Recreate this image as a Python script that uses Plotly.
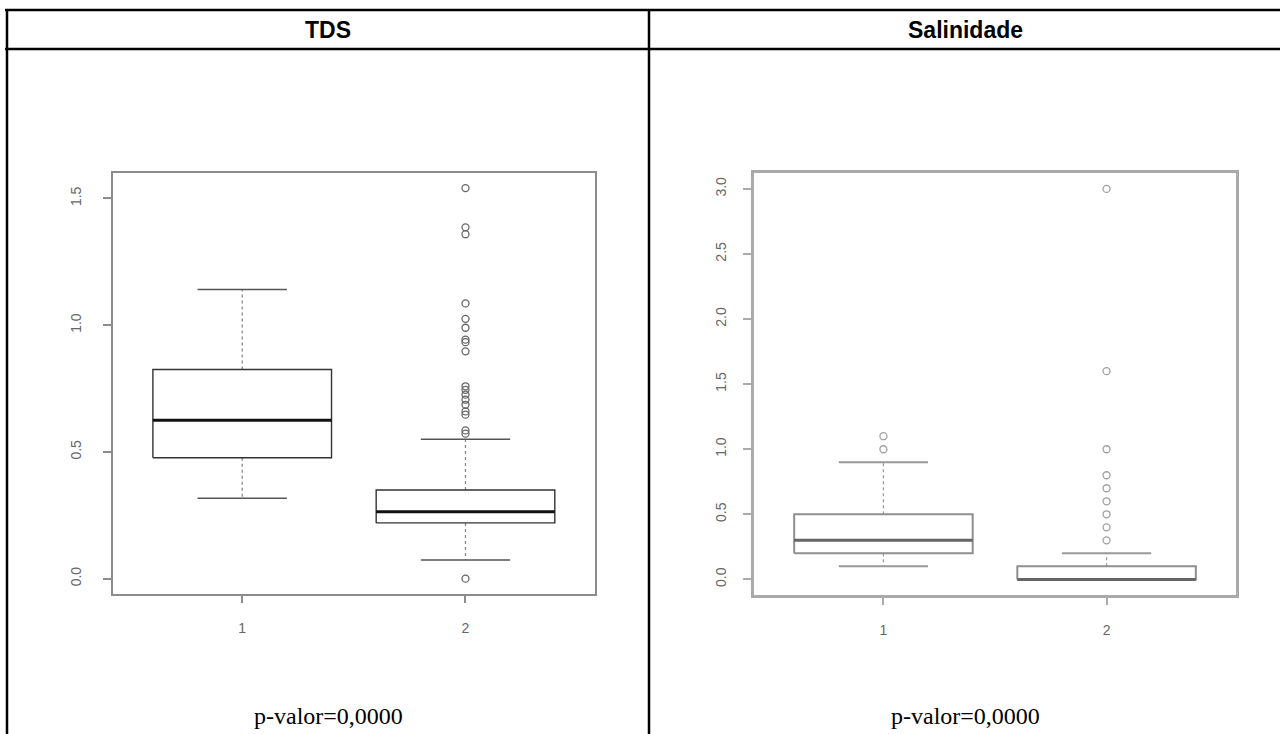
import plotly.graph_objects as go

W, H = 1280, 734

# ---------------- data ----------------
groups = [1, 2]
group_labels = ["1", "2"]

tds_lower = [0.317, 0.074]
tds_q1 = [0.477, 0.220]
tds_median = [0.625, 0.264]
tds_q3 = [0.825, 0.350]
tds_upper = [1.141, 0.550]
tds_outliers_g1 = []
tds_outliers_g2 = [0.0, 0.572, 0.585, 0.647, 0.660, 0.686, 0.706, 0.726, 0.745,
                   0.759, 0.897, 0.933, 0.943, 0.990, 1.025, 1.086, 1.359, 1.386, 1.541]

sal_lower = [0.1, 0.0]
sal_q1 = [0.2, 0.0]
sal_median = [0.3, 0.0]
sal_q3 = [0.5, 0.1]
sal_upper = [0.9, 0.2]
sal_outliers_g1 = [1.0, 1.1]
sal_outliers_g2 = [0.3, 0.4, 0.5, 0.6, 0.7, 0.8, 1.0, 1.6, 3.0]

tds_yticks = [0.0, 0.5, 1.0, 1.5]
sal_yticks = [0.0, 0.5, 1.0, 1.5, 2.0, 2.5, 3.0]

titles = ["TDS", "Salinidade"]
pvalue_texts = ["p-valor=0,0000", "p-valor=0,0000"]

# ---------------- helpers ----------------
def px_x(p):
    return p / W

def px_y(p):
    return 1 - p / H

fig = go.Figure()

def add_boxplot(xa, ya, lower, q1, med, q3, upper, outliers_list, style):
    hw, cw = 0.4, 0.2
    for i, g in enumerate(groups):
        # whiskers (dashed)
        for a, b in [(q3[i], upper[i]), (q1[i], lower[i])]:
            fig.add_trace(go.Scatter(x=[g, g], y=[a, b], mode="lines", xaxis=xa, yaxis=ya,
                                     line=dict(color=style["whisker"], width=1.3, dash="3px,3px"),
                                     showlegend=False, hoverinfo="skip"))
        # caps
        for v in [upper[i], lower[i]]:
            fig.add_trace(go.Scatter(x=[g - cw, g + cw], y=[v, v], mode="lines", xaxis=xa, yaxis=ya,
                                     line=dict(color=style["cap"], width=style["capw"]),
                                     showlegend=False, hoverinfo="skip"))
        # box
        fig.add_trace(go.Scatter(x=[g - hw, g + hw, g + hw, g - hw, g - hw],
                                 y=[q1[i], q1[i], q3[i], q3[i], q1[i]],
                                 mode="lines", xaxis=xa, yaxis=ya, fill="toself",
                                 fillcolor="white",
                                 line=dict(color=style["box"], width=style["boxw"]),
                                 showlegend=False, hoverinfo="skip"))
        # median
        fig.add_trace(go.Scatter(x=[g - hw, g + hw], y=[med[i], med[i]], mode="lines",
                                 xaxis=xa, yaxis=ya,
                                 line=dict(color=style["median"], width=3),
                                 showlegend=False, hoverinfo="skip"))
        # outliers
        outs = outliers_list[i]
        if outs:
            fig.add_trace(go.Scatter(x=[g] * len(outs), y=outs, mode="markers",
                                     xaxis=xa, yaxis=ya,
                                     marker=dict(symbol="circle-open", size=7,
                                                 color=style["outlier"], line=dict(width=1.3)),
                                     showlegend=False, hoverinfo="skip"))

left_style = dict(whisker="#888888", cap="#555555", capw=1.5, box="#333333", boxw=1.4,
                  median="#111111", outlier="#666666")
right_style = dict(whisker="#9a9a9a", cap="#999999", capw=2, box="#8f8f8f", boxw=2,
                   median="#666666", outlier="#a0a0a0")

add_boxplot("x", "y", tds_lower, tds_q1, tds_median, tds_q3, tds_upper,
            [tds_outliers_g1, tds_outliers_g2], left_style)
add_boxplot("x2", "y2", sal_lower, sal_q1, sal_median, sal_q3, sal_upper,
            [sal_outliers_g1, sal_outliers_g2], right_style)

def xaxis_cfg(domain, color, lw):
    return dict(domain=domain, range=[0.42, 2.58], tickmode="array", tickvals=groups,
                ticktext=group_labels, ticks="outside", ticklen=7, tickcolor=color, tickwidth=1.5,
                showline=True, linecolor=color, linewidth=lw, mirror=True,
                showgrid=False, zeroline=False, ticklabelstandoff=13,
                tickfont=dict(family="Liberation Sans, Arial", size=14, color="#666666"),
                fixedrange=True)

def yaxis_cfg(domain, rng, ticks, color, lw, anchor, standoff):
    return dict(domain=domain, range=rng, tickmode="array", tickvals=ticks,
                ticktext=[f"{t:.1f}" for t in ticks], ticks="outside", ticklen=8,
                tickcolor=color, tickwidth=1.5, tickangle=-90,
                showline=True, linecolor=color, linewidth=lw, mirror=True,
                showgrid=False, zeroline=False, anchor=anchor, ticklabelstandoff=standoff,
                tickfont=dict(family="Liberation Sans, Arial", size=14, color="#666666"),
                fixedrange=True)

fig.update_layout(
    width=W, height=H, margin=dict(l=0, r=0, t=0, b=0),
    paper_bgcolor="white", plot_bgcolor="white", showlegend=False,
    xaxis=xaxis_cfg([px_x(112.7), px_x(595)], "#8c8c8c", 2),
    yaxis=yaxis_cfg([px_y(594.3), px_y(172.7)], [-0.0616, 1.6016], tds_yticks,
                    "#8c8c8c", 2, "x", 16),
    xaxis2=dict(xaxis_cfg([px_x(754), px_x(1236)], "#aaaaaa", 2.5), anchor="y2"),
    yaxis2=yaxis_cfg([px_y(595), px_y(173.3)], [-0.12, 3.12], sal_yticks,
                     "#aaaaaa", 2.5, "x2", 12),
)
fig.layout.xaxis.anchor = "y"

# table frame lines
line_black = dict(color="black", width=2.5)
shapes = [
    dict(type="line", xref="paper", yref="paper", x0=px_x(5), x1=1.0, y0=px_y(10), y1=px_y(10), line=line_black),
    dict(type="line", xref="paper", yref="paper", x0=px_x(5), x1=1.0, y0=px_y(49), y1=px_y(49), line=line_black),
    dict(type="line", xref="paper", yref="paper", x0=px_x(7), x1=px_x(7), y0=px_y(9), y1=0.0, line=line_black),
    dict(type="line", xref="paper", yref="paper", x0=px_x(649), x1=px_x(649), y0=px_y(9), y1=0.0, line=line_black),
]
fig.update_layout(shapes=shapes)

# titles and p-values
cell_centers = [328, 965]
for c, t in zip(cell_centers, titles):
    fig.add_annotation(x=px_x(c), y=px_y(30), xref="paper", yref="paper", text=f"<b>{t}</b>",
                       showarrow=False, font=dict(family="Liberation Sans, Arial", size=23, color="black"),
                       xanchor="center", yanchor="middle")
for c, t in zip(cell_centers, pvalue_texts):
    fig.add_annotation(x=px_x(c), y=px_y(716), xref="paper", yref="paper", text=t,
                       showarrow=False, font=dict(family="Liberation Serif, Times New Roman", size=24, color="black"),
                       xanchor="center", yanchor="middle")

fig.write_html("out.html", config={"displayModeBar": False},
               post_script="document.body.style.margin='0';document.body.style.overflow='hidden';")
